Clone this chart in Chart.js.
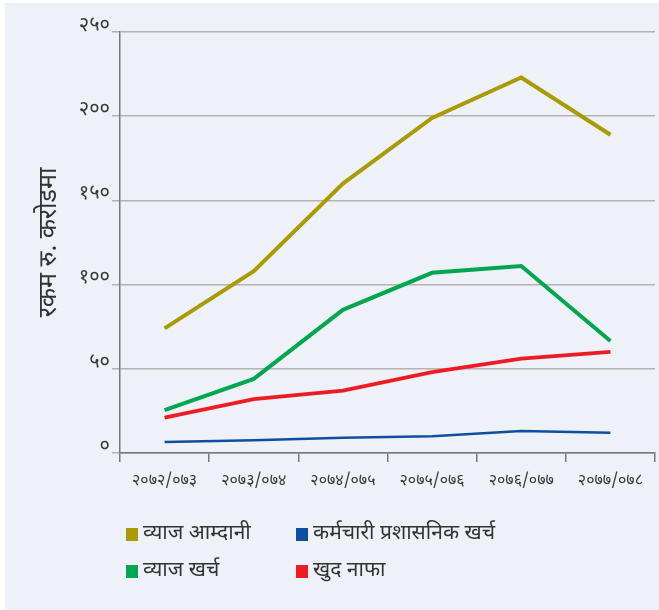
<!DOCTYPE html>
<html>
<head>
<meta charset="utf-8">
<script src="https://cdn.jsdelivr.net/npm/chart.js@4"></script>
<style>
  html, body { margin: 0; padding: 0; background: #ffffff; }
  #wrap { position: relative; width: 659px; height: 610px; }
  #panel { position: absolute; left: 5px; top: 3px; right: 0; bottom: 0; background: #eef1f8; }
  canvas { position: absolute; left: 0; top: 0; }
  #legend { position: absolute; left: 126px; top: 521px; width: 520px;
            display: grid; grid-template-columns: 170px 350px; row-gap: 11px;
            font-family: "Noto Sans Devanagari", "Noto Sans", sans-serif; font-size: 21px; color: #333; }
  .item { display: flex; align-items: center; height: 26px; white-space: nowrap; }
  .sw { width: 12px; height: 13px; margin-right: 5px; flex: none; }
</style>
</head>
<body>
<div id="wrap">
  <div id="panel"></div>
  <canvas id="c" width="659" height="610"></canvas>
  <div id="legend"></div>
</div>
<script>
const categories = ['२०७२/०७३', '२०७३/०७४', '२०७४/०७५', '२०७५/०७६', '२०७६/०७७', '२०७७/०७८'];
const interestIncome = [74, 108, 160, 199, 223, 189];
const staffAdminExpense = [6.5, 7.5, 9, 10, 13, 12];
const interestExpense = [25.5, 44, 85, 107, 111, 66.5];
const netProfit = [21, 32, 37, 48, 56, 60];
const yTickValues = [0, 50, 100, 150, 200, 250];
const yTickLabels = ['०', '५०', '१००', '१५०', '२००', '२५०'];
const seriesNames = ['व्याज आम्दानी', 'कर्मचारी प्रशासनिक खर्च', 'व्याज खर्च', 'खुद नाफा'];
const yTitle = 'रकम रु. करोडमा';

const FONT = '"Noto Sans Devanagari", "Noto Sans", sans-serif';

const chart = new Chart(document.getElementById('c'), {
  type: 'line',
  data: {
    labels: categories,
    datasets: [
      { label: seriesNames[0], data: interestIncome, borderColor: '#a99b00', backgroundColor: '#a99b00', borderWidth: 4 },
      { label: seriesNames[1], data: staffAdminExpense, borderColor: '#0b4ea2', backgroundColor: '#0b4ea2', borderWidth: 2.5 },
      { label: seriesNames[2], data: interestExpense, borderColor: '#00a651', backgroundColor: '#00a651', borderWidth: 4 },
      { label: seriesNames[3], data: netProfit, borderColor: '#ed1c24', backgroundColor: '#ed1c24', borderWidth: 3.8 }
    ]
  },
  options: {
    responsive: false,
    animation: false,
    layout: { padding: { left: 0, right: 4, top: 32, bottom: 117 } },
    elements: { point: { radius: 0, hoverRadius: 0 }, line: { tension: 0, borderCapStyle: 'butt', borderJoinStyle: 'miter' } },
    plugins: { legend: { display: false }, tooltip: { enabled: false } },
    scales: {
      x: {
        offset: true,
        afterFit: s => { s.height = 40; },
        grid: { drawOnChartArea: false, drawTicks: true, tickLength: 9, color: '#777777', lineWidth: 1.5, offset: true },
        border: { display: true, color: '#777777', width: 1.5 },
        ticks: { color: '#3a3a3a', font: { family: FONT, size: 16 }, padding: 10, maxRotation: 0, autoSkip: false }
      },
      y: {
        min: 0, max: 250,
        afterFit: s => { s.width = 120; },
        afterBuildTicks: s => { s.ticks = yTickValues.map(v => ({ value: v })); },
        grid: { color: '#b3b3b3', lineWidth: 1.5, drawTicks: true, tickLength: 8 },
        border: { display: true, color: '#777777', width: 1.5 },
        ticks: {
          color: '#3a3a3a', font: { family: FONT, size: 20 }, padding: 2, labelOffset: -5,
          callback: (v) => { const i = yTickValues.indexOf(v); return i >= 0 ? yTickLabels[i] : ''; }
        },
        title: { display: true, text: yTitle, color: '#333333', font: { family: FONT, size: 25 }, padding: { top: 36, bottom: 0 } }
      }
    }
  }
});

// HTML legend built from the chart's datasets, in two columns
const order = [0, 1, 2, 3];
const legendEl = document.getElementById('legend');
order.forEach(i => {
  const ds = chart.data.datasets[i];
  const item = document.createElement('div');
  item.className = 'item';
  const sw = document.createElement('span');
  sw.className = 'sw';
  sw.style.background = ds.borderColor;
  const tx = document.createElement('span');
  tx.textContent = ds.label;
  item.appendChild(sw);
  item.appendChild(tx);
  legendEl.appendChild(item);
});
</script>
</body>
</html>
